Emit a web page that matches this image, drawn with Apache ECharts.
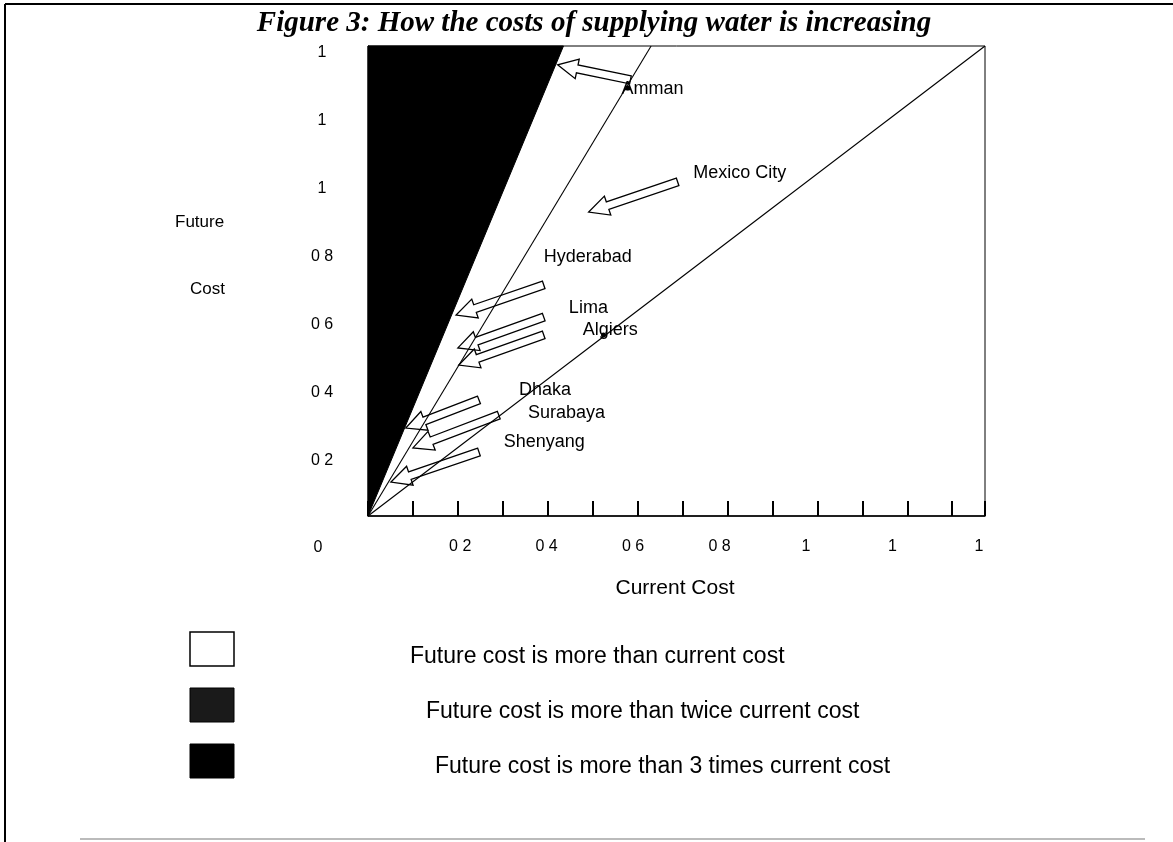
<!DOCTYPE html>
<html>
<head>
<meta charset="utf-8">
<script src="https://cdn.jsdelivr.net/npm/echarts@6/dist/echarts.min.js"></script>
<style>
html,body{margin:0;padding:0;background:#fff;}
#chart{width:1173px;height:842px;}
</style>
</head>
<body>
<div id="chart"></div>
<script>
// ---- data ----
const titleText = 'Figure 3: How the costs of supplying water is increasing';
const axisMax = 1.373;
const xTickLabels = ['0', '0 2', '0 4', '0 6', '0 8', '1', '1', '1'];   // 0, 0.2 ... 1.4
const yTickLabels = ['0', '0 2', '0 4', '0 6', '0 8', '1', '1', '1'];   // 0, 0.2 ... 1.4
const oneTimesLine = [[0, 0], [1.373, 1.373]];
const twiceLine = [[0, 0], [0.63, 1.373]];
const threeTimesRegion = [[0, 0], [0.435, 1.373], [0, 1.373]];
const cities = ['Amman', 'Mexico City', 'Hyderabad', 'Lima', 'Algiers', 'Dhaka', 'Surabaya', 'Shenyang'];
const cityLabelPos = [[0.564, 1.247], [0.724, 1.002], [0.391, 0.757], [0.447, 0.608], [0.478, 0.543], [0.336, 0.368], [0.356, 0.301], [0.302, 0.216]];
const arrowTail = [[0.584, 1.274], [0.689, 0.976], [0.391, 0.675], [0.391, 0.581], [0.391, 0.529], [0.247, 0.339], [0.291, 0.295], [0.247, 0.187]];
const arrowTip  = [[0.422, 1.318], [0.491, 0.888], [0.196, 0.587], [0.200, 0.491], [0.202, 0.441], [0.084, 0.257], [0.100, 0.199], [0.051, 0.099]];
const cityPoints = [[0.578, 1.250], [0.524, 0.529]];
const legendTexts = ['Future cost is more than current cost', 'Future cost is more than twice current cost', 'Future cost is more than 3 times current cost'];
const yTitle = ['Future', 'Cost'];
const xTitle = 'Current Cost';

// ---- chart ----
const chart = echarts.init(document.getElementById('chart'), null, {renderer: 'canvas'});
const SANS = 'Liberation Sans, Arial, sans-serif';
const SERIF = 'Liberation Serif, Times New Roman, serif';

function tickLabel(arr) {
  return function (v) {
    const i = Math.round(v / 0.2);
    if (i === 0) return '';
    return arr[i] !== undefined ? arr[i] : '';
  };
}

const arrowData = arrowTail.map((t, i) => [t[0], t[1], arrowTip[i][0], arrowTip[i][1]]);

const option = {
  backgroundColor: '#fff',
  animation: false,
  grid: [
    {left: 368, right: 188, top: 46, bottom: 326, show: true, borderColor: '#000', borderWidth: 1, backgroundColor: 'transparent'},
    {left: 373.7, right: 194, top: 53, bottom: 314, show: false}
  ],
  xAxis: [
    {type: 'value', gridIndex: 0, min: 0, max: axisMax, interval: 0.1,
      axisLine: {show: true, lineStyle: {color: '#000', width: 1.5}},
      axisTick: {show: true, inside: true, length: 15, lineStyle: {color: '#000', width: 2}},
      axisLabel: {show: false}, splitLine: {show: false}},
    {type: 'value', gridIndex: 1, min: 0, max: 1.4, interval: 0.2,
      axisLine: {show: false}, axisTick: {show: false}, splitLine: {show: false},
      axisLabel: {show: true, margin: 11, color: '#000', fontFamily: SANS, fontSize: 16, formatter: tickLabel(xTickLabels)}}
  ],
  yAxis: [
    {type: 'value', gridIndex: 0, min: 0, max: axisMax, interval: 0.2,
      axisLine: {show: true, lineStyle: {color: '#000', width: 1}},
      axisTick: {show: false}, axisLabel: {show: false}, splitLine: {show: false}},
    {type: 'value', gridIndex: 1, min: 0, max: 1.4, interval: 0.2,
      axisLine: {show: false}, axisTick: {show: false}, splitLine: {show: false},
      axisLabel: {show: true, margin: 51.7, align: 'center', color: '#000', fontFamily: SANS, fontSize: 16, formatter: tickLabel(yTickLabels)}}
  ],
  series: [
    {
      type: 'custom', xAxisIndex: 0, yAxisIndex: 0, z: 1, silent: true,
      data: [0],
      renderItem: function (params, api) {
        const pts = threeTimesRegion.map(p => api.coord(p));
        return {type: 'polygon', shape: {points: pts}, style: {fill: '#000', stroke: '#000', lineWidth: 1}};
      }
    },
    {
      type: 'custom', xAxisIndex: 0, yAxisIndex: 0, z: 2, silent: true,
      data: arrowData,
      encode: {x: [0, 2], y: [1, 3]},
      renderItem: function (params, api) {
        const tail = api.coord([api.value(0), api.value(1)]);
        const tip = api.coord([api.value(2), api.value(3)]);
        const dx = tip[0] - tail[0], dy = tip[1] - tail[1];
        const L = Math.hypot(dx, dy);
        const ux = dx / L, uy = dy / L, nx = -uy, ny = ux;
        const sw = 4, hw = 10, hl = 20;
        const bx = tip[0] - ux * hl, by = tip[1] - uy * hl;
        const pts = [
          [tail[0] + nx * sw, tail[1] + ny * sw],
          [bx + nx * sw, by + ny * sw],
          [bx + nx * hw, by + ny * hw],
          [tip[0], tip[1]],
          [bx - nx * hw, by - ny * hw],
          [bx - nx * sw, by - ny * sw],
          [tail[0] - nx * sw, tail[1] - ny * sw]
        ];
        return {type: 'polygon', shape: {points: pts}, style: {fill: '#fff', stroke: '#000', lineWidth: 1.3}};
      }
    },
    {type: 'line', xAxisIndex: 0, yAxisIndex: 0, z: 3, data: oneTimesLine, symbol: 'none', silent: true,
      lineStyle: {color: '#000', width: 1.1}},
    {type: 'line', xAxisIndex: 0, yAxisIndex: 0, z: 3, data: twiceLine, symbol: 'none', silent: true,
      lineStyle: {color: '#000', width: 1.1}},
    {type: 'scatter', xAxisIndex: 0, yAxisIndex: 0, z: 4, data: cityPoints, symbol: 'circle', symbolSize: 5, silent: true,
      itemStyle: {color: '#000', opacity: 1}},
    {type: 'scatter', xAxisIndex: 0, yAxisIndex: 0, z: 5, silent: true,
      data: cities.map((c, i) => ({name: c, value: cityLabelPos[i]})),
      symbolSize: 0, itemStyle: {opacity: 1},
      label: {show: true, position: 'right', distance: 0, formatter: '{b}', color: '#000', fontFamily: SANS, fontSize: 18}}
  ],
  graphic: [
    {type: 'line', shape: {x1: 5, y1: 4, x2: 1173, y2: 4}, style: {stroke: '#000', lineWidth: 2}},
    {type: 'line', shape: {x1: 5, y1: 4, x2: 5, y2: 842}, style: {stroke: '#000', lineWidth: 2}},
    {type: 'line', shape: {x1: 80, y1: 839, x2: 1145, y2: 839}, style: {stroke: '#bbb', lineWidth: 2}},
    {type: 'text', x: 594, y: 24, style: {text: titleText, font: 'italic bold 29px ' + SERIF, fill: '#000', textAlign: 'center', textVerticalAlign: 'middle'}},
    {type: 'text', x: 318, y: 548, style: {text: xTickLabels[0], font: '16px ' + SANS, fill: '#000', textAlign: 'center', textVerticalAlign: 'middle'}},
    {type: 'text', x: 175, y: 222, style: {text: yTitle[0], font: '17px ' + SANS, fill: '#000', textAlign: 'left', textVerticalAlign: 'middle'}},
    {type: 'text', x: 190, y: 289, style: {text: yTitle[1], font: '17px ' + SANS, fill: '#000', textAlign: 'left', textVerticalAlign: 'middle'}},
    {type: 'text', x: 675, y: 588, style: {text: xTitle, font: '21px ' + SANS, fill: '#000', textAlign: 'center', textVerticalAlign: 'middle'}},
    {type: 'rect', shape: {x: 190, y: 632, width: 44, height: 34}, style: {fill: '#fff', stroke: '#000', lineWidth: 1.5}},
    {type: 'rect', shape: {x: 190, y: 688, width: 44, height: 34}, style: {fill: '#1a1a1a', stroke: '#000', lineWidth: 1}},
    {type: 'rect', shape: {x: 190, y: 744, width: 44, height: 34}, style: {fill: '#000', stroke: '#000', lineWidth: 1}},
    {type: 'text', x: 410, y: 657, style: {text: legendTexts[0], font: '23px ' + SANS, fill: '#000', textAlign: 'left', textVerticalAlign: 'middle'}},
    {type: 'text', x: 426, y: 712, style: {text: legendTexts[1], font: '23px ' + SANS, fill: '#000', textAlign: 'left', textVerticalAlign: 'middle'}},
    {type: 'text', x: 435, y: 767, style: {text: legendTexts[2], font: '23px ' + SANS, fill: '#000', textAlign: 'left', textVerticalAlign: 'middle'}}
  ]
};
chart.setOption(option);
</script>
</body>
</html>
